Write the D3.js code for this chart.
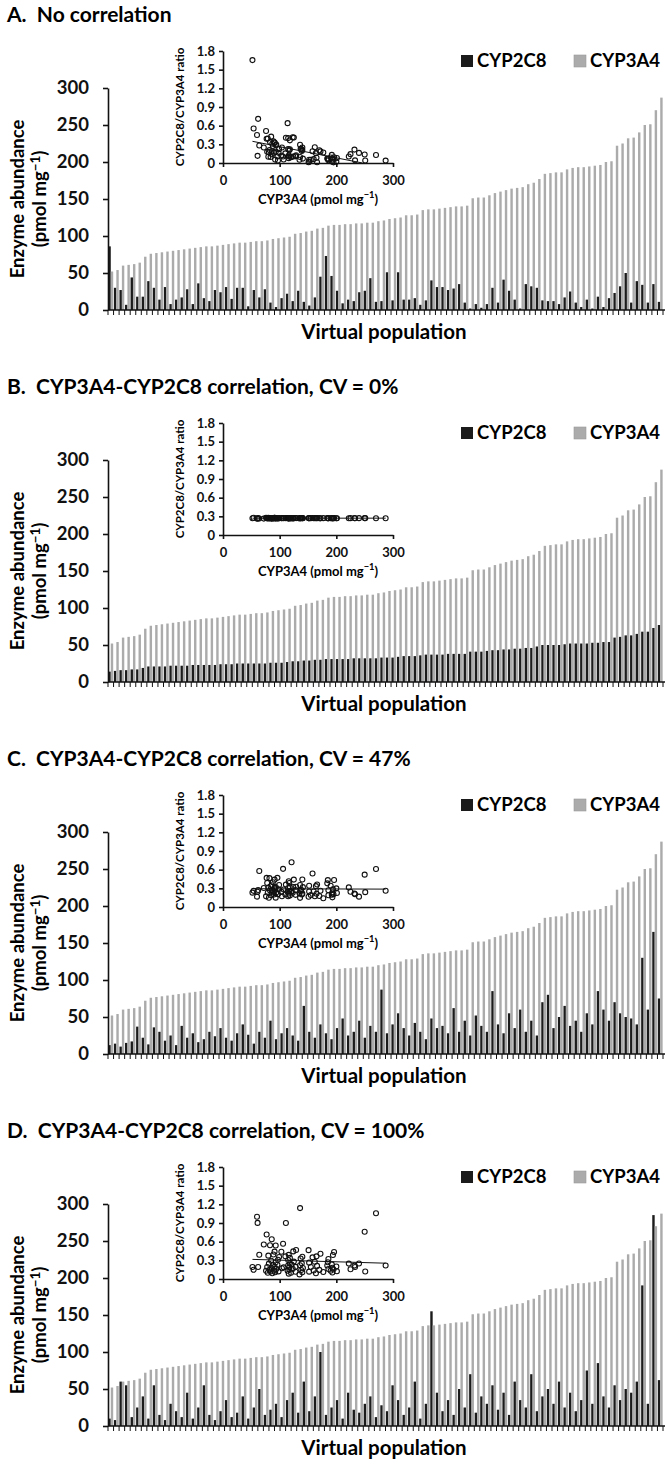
<!DOCTYPE html>
<html>
<head>
<meta charset="utf-8">
<title>CYP2C8 and CYP3A4 abundance</title>
<script src="https://cdn.jsdelivr.net/npm/d3@7"></script>
<style>
  body { margin: 0; background: #fff; }
  svg { display: block; font-family: Lato, 'Open Sans', sans-serif; font-weight: bold; }
</style>
</head>
<body>
<svg width="667" height="1467" id="mainsvg"></svg>
<script>
// CYP3A4 abundance of the virtual individuals (sorted), same in every panel
const cyp3a4 = [52, 54, 60, 61, 62, 64, 72, 76, 77, 78,
  79, 80, 81, 82, 83, 84, 85, 86, 86, 87,
  88, 89, 90, 91, 91, 92, 93, 93, 94, 96,
  97, 98, 99, 103, 104, 106, 107, 110, 111, 114,
  115, 115, 116, 116, 117, 117, 118, 118, 120, 121,
  123, 124, 125, 128, 128, 129, 135, 136, 136, 137,
  138, 139, 140, 140, 141, 151, 152, 152, 155, 158,
  160, 162, 164, 165, 166, 170, 172, 177, 184, 185,
  186, 186, 190, 192, 193, 193, 194, 195, 196, 200,
  201, 222, 225, 232, 233, 240, 250, 251, 270, 287];

// CYP2C8 abundance per panel
const cyp2c8A = [86, 30, 27, 7, 44, 18, 18, 39, 30, 14,
  31, 8, 14, 17, 28, 8, 36, 16, 12, 27,
  24, 31, 15, 30, 30, 5, 27, 17, 28, 10,
  4, 16, 22, 12, 26, 11, 6, 17, 45, 73,
  46, 26, 9, 14, 12, 24, 26, 43, 11, 12,
  51, 13, 51, 14, 14, 16, 7, 13, 40, 31,
  31, 27, 29, 35, 10, 2, 8, 3, 8, 30,
  10, 41, 26, 14, 2, 35, 32, 30, 13, 12,
  12, 8, 17, 25, 10, 4, 14, 2, 18, 4,
  16, 23, 32, 50, 10, 39, 34, 10, 35, 11];

const cyp2c8B = [14, 15, 16, 16, 17, 17, 19, 21, 21, 21,
  21, 22, 22, 22, 22, 23, 23, 23, 23, 23,
  24, 24, 24, 25, 25, 25, 25, 25, 25, 26,
  26, 26, 27, 28, 28, 29, 29, 30, 30, 31,
  31, 31, 31, 31, 32, 32, 32, 32, 32, 33,
  33, 33, 34, 35, 35, 35, 36, 37, 37, 37,
  37, 38, 38, 38, 38, 41, 41, 41, 42, 43,
  43, 44, 44, 45, 45, 46, 46, 48, 50, 50,
  50, 50, 51, 52, 52, 52, 52, 53, 53, 54,
  54, 60, 61, 63, 63, 65, 68, 68, 73, 77];

const cyp2c8C = [12, 14, 10, 15, 17, 37, 22, 13, 36, 30,
  18, 25, 12, 38, 22, 28, 16, 20, 30, 24,
  35, 22, 18, 28, 40, 26, 14, 30, 22, 45,
  20, 28, 35, 25, 18, 65, 30, 22, 40, 28,
  20, 35, 48, 25, 30, 45, 22, 38, 30, 87,
  28, 40, 55, 35, 25, 42, 30, 20, 48, 35,
  38, 28, 62, 30, 45, 25, 52, 38, 30, 85,
  40, 28, 55, 35, 60, 30, 45, 25, 70, 80,
  35, 50, 65, 38, 45, 30, 55, 40, 85, 60,
  45, 70, 55, 50, 48, 40, 130, 60, 165, 75];

const cyp2c8D = [10, 8, 60, 55, 12, 25, 40, 10, 55, 15,
  8, 30, 20, 12, 45, 10, 25, 55, 15, 8,
  20, 35, 12, 18, 40, 10, 25, 50, 15, 22,
  30, 12, 35, 45, 18, 60, 20, 40, 100, 15,
  25, 35, 10, 45, 22, 18, 30, 40, 12, 28,
  20, 55, 35, 15, 25, 60, 10, 30, 155, 45,
  20, 35, 15, 50, 25, 70, 18, 40, 30, 55,
  22, 45, 15, 60, 35, 25, 70, 20, 40, 50,
  30, 60, 25, 45, 20, 35, 75, 30, 85, 40,
  25, 55, 35, 50, 45, 60, 190, 30, 285, 62];

const panelTitles = ['A.  No correlation',
  'B.  CYP3A4-CYP2C8 correlation, CV = 0%',
  'C.  CYP3A4-CYP2C8 correlation, CV = 47%',
  'D.  CYP3A4-CYP2C8 correlation, CV = 100%'];
const panelSeries = [cyp2c8A, cyp2c8B, cyp2c8C, cyp2c8D];
const seriesNames = ['CYP2C8', 'CYP3A4'];
const seriesColors = ['#1b1b1b', '#ababab'];
const population = d3.range(1, cyp3a4.length + 1);
const yTicks = [0, 50, 100, 150, 200, 250, 300];
const ratioTicks = [0, 0.3, 0.6, 0.9, 1.2, 1.5, 1.8];
const insetXTicks = [0, 100, 200, 300];

const svg = d3.select('#mainsvg');
const panelStep = 372;

// main chart scales (panel-relative)
const slot = d3.scaleBand().domain(population).range([108, 663]);
const inner = d3.scaleBand().domain(seriesNames).range([0, slot.bandwidth()]).paddingOuter(0.15);
const y = d3.scaleLinear().domain([0, 300]).range([310, 88]);
// inset scales
const ix = d3.scaleLinear().domain([0, 300]).range([223, 393]);
const iy = d3.scaleLinear().domain([0, 1.8]).range([163, 51]);

const supText = (sel, pre, post) => {
  sel.append('tspan').text(pre);
  sel.append('tspan').attr('dy', -6).attr('font-size', '0.72em').text('\u22121');
  sel.append('tspan').attr('dy', 6).text(post);
};

function drawPanel(black, idx) {
  const g = svg.append('g').attr('transform', `translate(0,${idx * panelStep})`);

  g.append('text').attr('x', 7).attr('y', 22).attr('font-size', 21).attr('xml:space', 'preserve')
    .text(panelTitles[idx]);

  // legend
  const leg = g.append('g');
  [[461, 477], [574, 590]].forEach((p, i) => {
    leg.append('rect').attr('x', p[0]).attr('y', 55).attr('width', 12).attr('height', 12)
      .attr('fill', seriesColors[i]).attr('stroke', i ? '#999' : 'none').attr('stroke-width', 0.6);
    leg.append('text').attr('x', p[1]).attr('y', 67).attr('font-size', 18.5).text(seriesNames[i]);
  });

  // bars
  const rows = population.map((p, i) => ({ p, vals: [black[i], cyp3a4[i]] }));
  const grp = g.append('g').selectAll('g').data(rows).join('g')
    .attr('transform', d => `translate(${slot(d.p)},0)`);
  grp.selectAll('rect').data(d => d.vals.map((v, k) => ({ k, v }))).join('rect')
    .attr('x', d => inner(seriesNames[d.k]))
    .attr('width', inner.bandwidth())
    .attr('y', d => y(d.v))
    .attr('height', d => y(0) - y(d.v))
    .attr('fill', d => seriesColors[d.k]);

  // y axis
  const ya = g.append('g').attr('transform', 'translate(108,0)')
    .call(d3.axisLeft(y).tickValues(yTicks).tickSize(5).tickSizeOuter(0).tickPadding(14));
  ya.attr('font-family', null).attr('font-size', 18.5);
  ya.selectAll('text').attr('fill', '#111');
  ya.selectAll('line, path').attr('stroke', '#111').attr('stroke-width', 1.6);

  // x axis with category boundary ticks
  const xa = g.append('g');
  xa.append('line').attr('x1', 108).attr('x2', 665).attr('y1', y(0)).attr('y2', y(0))
    .attr('stroke', '#111').attr('stroke-width', 1.6);
  xa.selectAll('.tk').data(population.concat([null])).join('line')
    .attr('x1', d => d === null ? slot.range()[1] : slot(d))
    .attr('x2', d => d === null ? slot.range()[1] : slot(d))
    .attr('y1', y(0)).attr('y2', y(0) + 5)
    .attr('stroke', '#111').attr('stroke-width', 1);

  g.append('text').attr('x', 384).attr('y', 339).attr('text-anchor', 'middle')
    .attr('font-size', 20.5).text('Virtual population');

  const yt = g.append('text').attr('transform', 'translate(24,199) rotate(-90)')
    .attr('text-anchor', 'middle').attr('font-size', 18.5);
  yt.text('Enzyme abundance');
  const yt2 = g.append('text').attr('transform', 'translate(46,199) rotate(-90)')
    .attr('text-anchor', 'middle').attr('font-size', 18.5);
  supText(yt2, '(pmol mg', ')');

  // inset scatter of ratio vs CYP3A4
  const pts = cyp3a4.map((v, i) => ({ x: v, r: black[i] / v }));
  const ins = g.append('g');
  const iya = ins.append('g').attr('transform', 'translate(223,0)')
    .call(d3.axisLeft(iy).tickValues(ratioTicks).tickSize(4).tickSizeOuter(0).tickPadding(4)
      .tickFormat(d => d === 0 ? '0' : d3.format('.1f')(d)));
  const ixa = ins.append('g').attr('transform', `translate(0,${iy(0)})`)
    .call(d3.axisBottom(ix).tickValues(insetXTicks).tickSize(4).tickSizeOuter(0).tickPadding(9));
  [iya, ixa].forEach(a => {
    a.attr('font-family', null).attr('font-size', 13);
    a.selectAll('text').attr('fill', '#111');
    a.selectAll('line, path').attr('stroke', '#111').attr('stroke-width', 1.6);
  });
  ins.append('text').attr('transform', 'translate(184,107) rotate(-90)')
    .attr('text-anchor', 'middle').attr('font-size', 11.5).text('CYP2C8/CYP3A4 ratio');
  const ixt = ins.append('text').attr('x', 318).attr('y', 204).attr('text-anchor', 'middle').attr('font-size', 13);
  supText(ixt, 'CYP3A4 (pmol mg', ')');

  // linear trend line
  const mx = d3.mean(pts, d => d.x), my = d3.mean(pts, d => d.r);
  const slope = d3.sum(pts, d => (d.x - mx) * (d.r - my)) / d3.sum(pts, d => (d.x - mx) ** 2);
  const icpt = my - slope * mx;
  const x0 = d3.min(pts, d => d.x);
  let x1 = d3.max(pts, d => d.x);
  if (icpt + slope * x1 < 0) x1 = -icpt / slope;
  ins.append('line').attr('x1', ix(x0)).attr('x2', ix(x1))
    .attr('y1', iy(icpt + slope * x0)).attr('y2', iy(icpt + slope * x1))
    .attr('stroke', '#111').attr('stroke-width', 1);

  ins.append('g').selectAll('circle').data(pts).join('circle')
    .attr('cx', d => ix(d.x)).attr('cy', d => iy(d.r)).attr('r', 2.5)
    .attr('fill', 'none').attr('stroke', '#111').attr('stroke-width', 1.1);
}

panelSeries.forEach((s, i) => drawPanel(s, i));
</script>
</body>
</html>
